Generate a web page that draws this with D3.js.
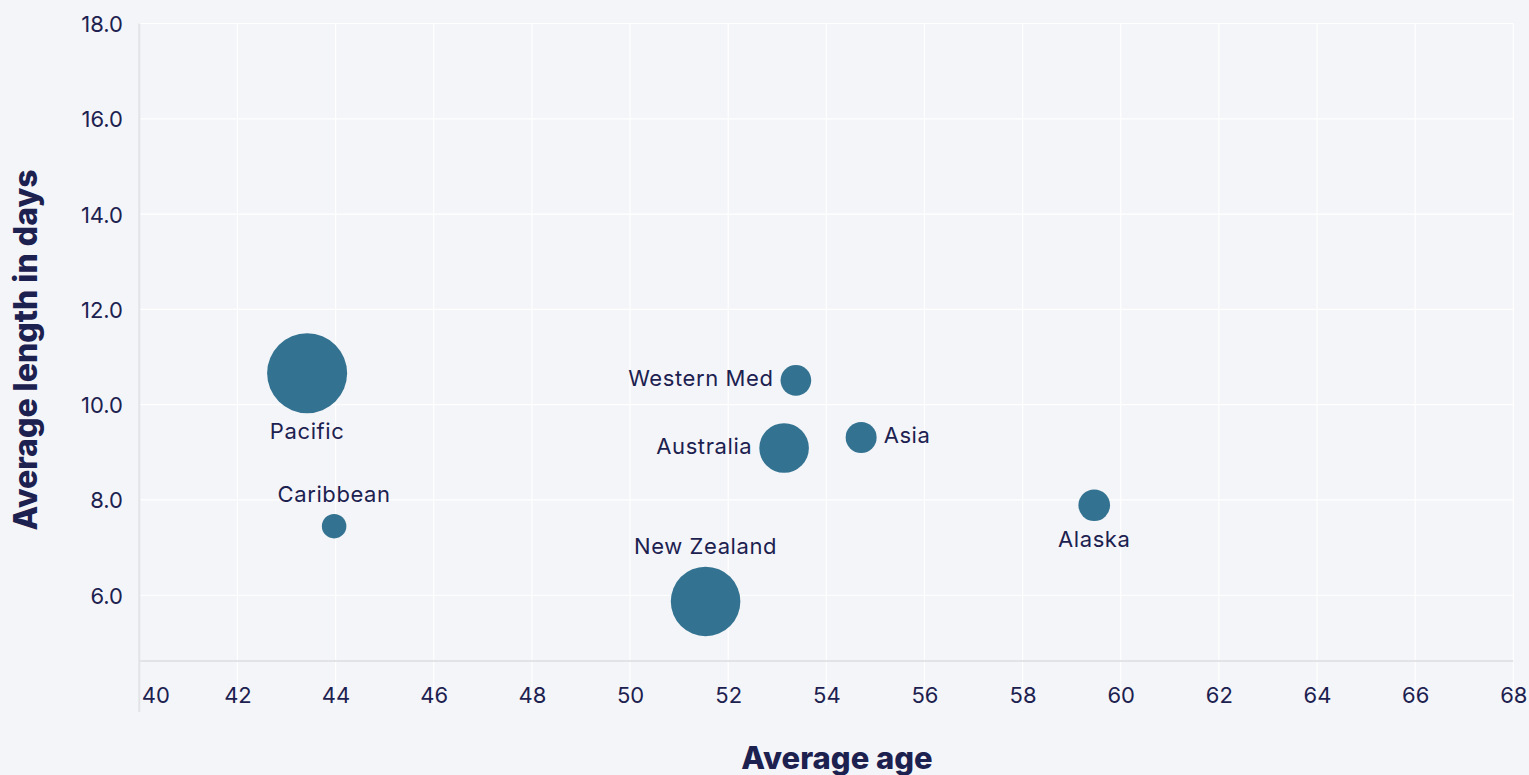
<!DOCTYPE html>
<html>
<head>
<meta charset="utf-8">
<script src="https://cdn.jsdelivr.net/npm/d3@7"></script>
<style>
  html, body { margin: 0; padding: 0; background: #f4f5f8; }
  svg { display: block; font-family: Inter, "Noto Sans", sans-serif; }
</style>
</head>
<body>
<svg id="chart" width="1529" height="775"></svg>
<script>
// cruise regions
var regions = ["Pacific", "Caribbean", "Western Med", "Australia", "Asia", "New Zealand", "Alaska"];
var avgAge = [43.42, 43.97, 53.38, 53.14, 54.71, 51.54, 59.46];
var avgLength = [10.66, 7.45, 10.51, 9.09, 9.31, 5.87, 7.89];
var volume = [16.0, 1.5, 2.35, 6.15, 2.4, 12.1, 2.5];

var xTicks = [40, 42, 44, 46, 48, 50, 52, 54, 56, 58, 60, 62, 64, 66, 68];
var yTicks = [6, 8, 10, 12, 14, 16, 18];

var svg = d3.select("#chart");
var ink = "#1c2150";

var x = d3.scaleLinear().domain([40, 68]).range([139.3, 1513.3]);
var y = d3.scaleLinear().domain([4.62, 18]).range([661, 23.5]);
var r = d3.scaleSqrt().domain([0, d3.max(volume)]).range([0, 40]);

var points = regions.map(function(name, i) {
	return { name: name, age: avgAge[i], len: avgLength[i], vol: volume[i] };
});

// horizontal grid
svg.append("g")
	.selectAll("line")
	.data(yTicks)
	.enter().append("line")
	.attr("x1", x(40)).attr("x2", x(68))
	.attr("y1", function(d) { return y(d); })
	.attr("y2", function(d) { return y(d); })
	.attr("stroke", "#ffffff")
	.attr("stroke-width", 1.2);

// vertical grid, running a bit past the axis line
svg.append("g")
	.selectAll("line")
	.data(xTicks.slice(1))
	.enter().append("line")
	.attr("x1", function(d) { return x(d); })
	.attr("x2", function(d) { return x(d); })
	.attr("y1", y(18)).attr("y2", 705)
	.attr("stroke", "#ffffff")
	.attr("stroke-width", 1.2);

// axis lines
svg.append("line")
	.attr("x1", x(40)).attr("x2", x(68))
	.attr("y1", y(4.62)).attr("y2", y(4.62))
	.attr("stroke", "#e2e3e7").attr("stroke-width", 2);
svg.append("line")
	.attr("x1", x(40)).attr("x2", x(40))
	.attr("y1", y(18)).attr("y2", 712)
	.attr("stroke", "#e2e3e7").attr("stroke-width", 2);

// tick labels
var xAxis = d3.axisBottom(x).tickValues(xTicks).tickSize(0).tickPadding(0);
var gx = svg.append("g").attr("transform", "translate(0,703)").call(xAxis);
gx.select(".domain").remove();
gx.selectAll("text")
	.attr("dy", 0)
	.attr("font-size", 22)
	.attr("font-family", "Inter, sans-serif")
	.attr("fill", ink)
	.attr("dx", function(d) { return d === 40 ? 16 : 0; });

var yAxis = d3.axisLeft(y).tickValues(yTicks).tickSize(0).tickPadding(0)
	.tickFormat(d3.format(".1f"));
var gy = svg.append("g").attr("transform", "translate(123,0)").call(yAxis);
gy.select(".domain").remove();
gy.selectAll("text")
	.attr("dy", "0.36em")
	.attr("font-size", 22)
	.attr("font-family", "Inter, sans-serif")
	.attr("fill", ink);

// axis titles
svg.append("text")
	.attr("x", 837).attr("y", 769)
	.attr("text-anchor", "middle")
	.attr("font-size", 31).attr("font-weight", 800)
	.attr("fill", ink)
	.text("Average age");
svg.append("text")
	.attr("transform", "translate(37,350) rotate(-90)")
	.attr("text-anchor", "middle")
	.attr("font-size", 32).attr("font-weight", 800)
	.attr("fill", ink)
	.text("Average length in days");

// bubbles
var bubble = svg.append("g")
	.selectAll("g")
	.data(points)
	.enter().append("g")
	.attr("transform", function(d) {
		return "translate(" + x(d.age) + "," + y(d.len) + ")";
	});

bubble.append("circle")
	.attr("r", function(d) { return r(d.vol); })
	.attr("fill", "#337391");

// where each label sits against its bubble
var side = {
	"Pacific": "below", "Caribbean": "above", "Western Med": "left",
	"Australia": "left", "Asia": "right", "New Zealand": "above", "Alaska": "below"
};

bubble.append("text")
	.attr("font-size", 22)
	.attr("letter-spacing", 0.6)
	.attr("fill", ink)
	.attr("dy", "0.35em")
	.attr("text-anchor", function(d) {
		var s = side[d.name];
		return s === "left" ? "end" : s === "right" ? "start" : "middle";
	})
	.attr("x", function(d) {
		var s = side[d.name], rr = r(d.vol);
		if (s === "left") return -rr - 7;
		if (s === "right") return rr + 7;
		return 0;
	})
	.attr("y", function(d) {
		var s = side[d.name], rr = r(d.vol);
		if (s === "above") return -rr - 20;
		if (s === "below") return rr + 18;
		return -2;
	})
	.text(function(d) { return d.name; });
</script>
</body>
</html>
